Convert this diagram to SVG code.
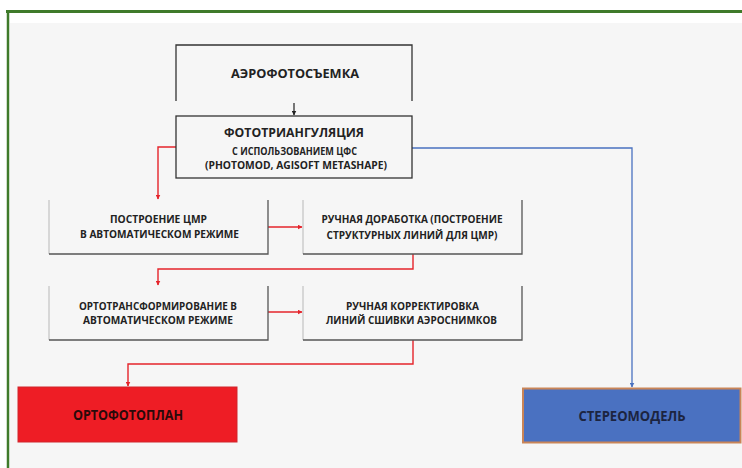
<svg xmlns="http://www.w3.org/2000/svg" width="742" height="468" viewBox="0 0 742 468">
<style>
.t{font-family:"Open Sans","Liberation Sans",sans-serif;font-weight:bold;fill:#222;text-anchor:middle}
.side{fill:none;stroke:#b8b8b8;stroke-width:1}
.edge{fill:none;stroke:#555;stroke-width:1.3}
.red{fill:none;stroke:#e5242b;stroke-width:1.4}
.blue{fill:none;stroke:#4a72c0;stroke-width:1.3}
</style>
<defs>
<marker id="ar" viewBox="0 0 10 10" refX="9" refY="5" markerWidth="5" markerHeight="5" orient="auto" markerUnits="userSpaceOnUse"><path d="M0,0L10,5L0,10z" fill="#e5242b"/></marker>
<marker id="ab" viewBox="0 0 10 10" refX="9" refY="5" markerWidth="5" markerHeight="5" orient="auto" markerUnits="userSpaceOnUse"><path d="M0,0L10,5L0,10z" fill="#4a72c0"/></marker>
<marker id="ak" viewBox="0 0 10 10" refX="9" refY="5" markerWidth="5" markerHeight="5" orient="auto" markerUnits="userSpaceOnUse"><path d="M0,0L10,5L0,10z" fill="#222"/></marker>
</defs>
<rect x="0" y="0" width="742" height="468" fill="#ffffff"/>
<rect x="10" y="23" width="732" height="445" fill="#f6f6f6"/>
<line x1="6" y1="11.5" x2="742" y2="11.5" stroke="#3f7a2a" stroke-width="3"/>
<line x1="8" y1="10" x2="8" y2="468" stroke="#3f7a2a" stroke-width="2.5"/>

<g id="connectors">
<line x1="294" y1="103" x2="294" y2="115" stroke="#222" stroke-width="1.2" marker-end="url(#ak)"/>
<polyline class="red" points="176,147 158,147 158,199" marker-end="url(#ar)"/>
<polyline class="blue" points="412,148 632,148 632,387" marker-end="url(#ab)"/>
<line class="red" x1="268" y1="227" x2="302" y2="227" marker-end="url(#ar)"/>
<polyline class="red" points="413,254 413,269 158,269 158,285" marker-end="url(#ar)"/>
<line class="red" x1="268" y1="312" x2="302" y2="312" marker-end="url(#ar)"/>
<polyline class="red" points="413,340 413,364 128,364 128,386" marker-end="url(#ar)"/>
</g>

<g id="n1">
<path d="M176,101V45H412V101" fill="none" stroke="#333" stroke-width="1.3"/>
<text class="t" x="295" y="78" font-size="13" textLength="128" lengthAdjust="spacingAndGlyphs">АЭРОФОТОСЪЕМКА</text>
</g>

<g id="n2">
<rect x="176" y="116" width="236" height="62" fill="none" stroke="#333" stroke-width="1.3"/>
<text class="t" x="294" y="136.5" font-size="12.5" textLength="140" lengthAdjust="spacingAndGlyphs">ФОТОТРИАНГУЛЯЦИЯ</text>
<text class="t" x="294.5" y="154.5" font-size="10" textLength="125" lengthAdjust="spacingAndGlyphs">С ИСПОЛЬЗОВАНИЕМ ЦФС</text>
<text class="t" x="296" y="168.8" font-size="10" textLength="182" lengthAdjust="spacingAndGlyphs">(PHOTOMOD, AGISOFT METASHAPE)</text>
</g>

<g id="n3">
<path class="side" d="M49,200V254"/>
<path class="edge" d="M49,254H268V200"/>
<text class="t" x="158.5" y="223" font-size="10.5" textLength="97" lengthAdjust="spacingAndGlyphs">ПОСТРОЕНИЕ ЦМР</text>
<text class="t" x="159.5" y="238.3" font-size="10.5" textLength="159" lengthAdjust="spacingAndGlyphs">В АВТОМАТИЧЕСКОМ РЕЖИМЕ</text>
</g>

<g id="n4">
<path class="side" d="M303,200V254"/>
<path class="edge" d="M303,254H522V200"/>
<text class="t" x="412" y="223" font-size="10.5" textLength="181" lengthAdjust="spacingAndGlyphs">РУЧНАЯ ДОРАБОТКА (ПОСТРОЕНИЕ</text>
<text class="t" x="412" y="239" font-size="10.5" textLength="171" lengthAdjust="spacingAndGlyphs">СТРУКТУРНЫХ ЛИНИЙ ДЛЯ ЦМР)</text>
</g>

<g id="n5">
<path class="side" d="M49,286V340"/>
<path class="edge" d="M49,340H268V286"/>
<text class="t" x="158" y="310" font-size="10.5" textLength="158" lengthAdjust="spacingAndGlyphs">ОРТОТРАНСФОРМИРОВАНИЕ В</text>
<text class="t" x="158" y="324" font-size="10.5" textLength="150" lengthAdjust="spacingAndGlyphs">АВТОМАТИЧЕСКОМ РЕЖИМЕ</text>
</g>

<g id="n6">
<path class="side" d="M303,286V340"/>
<path class="edge" d="M303,340H522V286"/>
<text class="t" x="412.5" y="310" font-size="10.5" textLength="133" lengthAdjust="spacingAndGlyphs">РУЧНАЯ КОРРЕКТИРОВКА</text>
<text class="t" x="411.5" y="324.3" font-size="10.5" textLength="171" lengthAdjust="spacingAndGlyphs">ЛИНИЙ СШИВКИ АЭРОСНИМКОВ</text>
</g>

<g id="n7">
<rect x="18" y="387" width="219" height="55" fill="#ee1d25" stroke="#d0262c" stroke-width="1"/>
<text class="t" x="128" y="420" font-size="13.5" style="fill:#2a0a0a" textLength="110" lengthAdjust="spacingAndGlyphs">ОРТОФОТОПЛАН</text>
</g>

<g id="n8">
<rect x="523" y="388.5" width="217.5" height="54" fill="#4a71c1" stroke="#c98558" stroke-width="2"/>
<text class="t" x="632" y="421" font-size="13.5" style="fill:#1c2440" textLength="107" lengthAdjust="spacingAndGlyphs">СТЕРЕОМОДЕЛЬ</text>
</g>
</svg>
